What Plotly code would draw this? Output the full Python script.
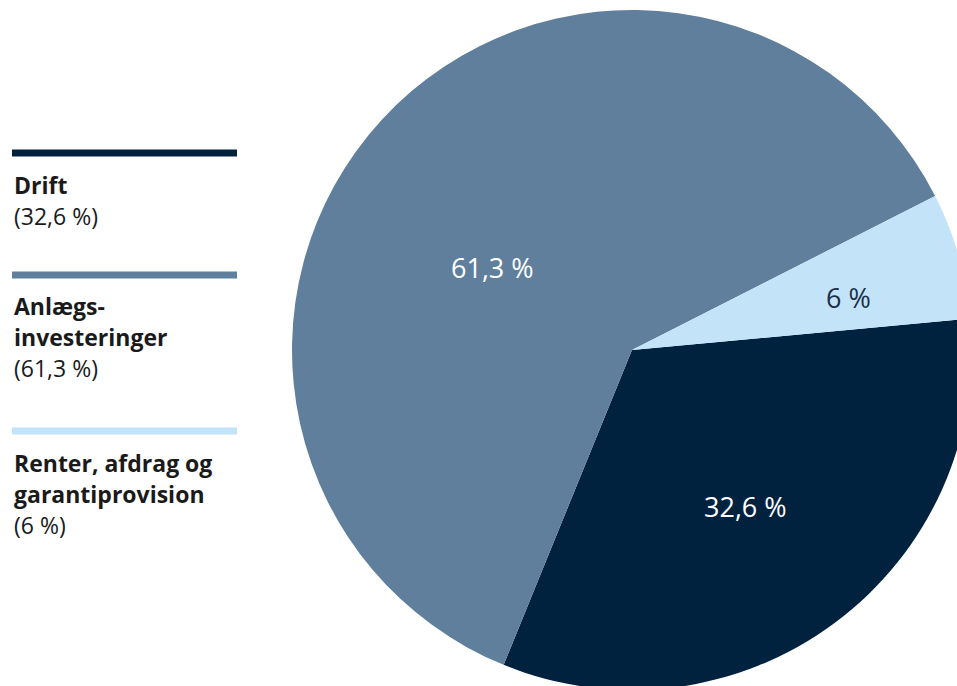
import plotly.graph_objects as go

# Data
labels = ["Drift", "Anlægsinvesteringer", "Renter, afdrag og garantiprovision"]
legend_lines = [["Drift"], ["Anlægs-", "investeringer"], ["Renter, afdrag og", "garantiprovision"]]
values = [32.6, 61.3, 6.0]
value_text = ["32,6 %", "61,3 %", "6 %"]
colors = ["#00223F", "#5F7F9C", "#C3E4F8"]
label_colors = ["#FFFFFF", "#FFFFFF", "#1B3048"]

# Figure is a bit larger than the window: the pie runs off the right/bottom edge
W, H = 973, 692
FONT = "Open Sans"

fig = go.Figure()
fig.add_trace(go.Pie(
    labels=labels,
    values=values,
    sort=False,
    direction="clockwise",
    rotation=84.7,
    marker=dict(colors=colors, line=dict(width=0)),
    textinfo="none",
    hoverinfo="label+percent",
    showlegend=False,
    domain=dict(x=[292 / W, 972 / W], y=[(H - 690) / H, (H - 10) / H]),
))

def py2paper(py):
    return 1 - py / H

# Labels on slices (pixel positions)
slice_label_pos = [(745, 507), (492, 267), (848, 297)]
annotations = []
for (px, py), txt, c in zip(slice_label_pos, value_text, label_colors):
    annotations.append(dict(
        x=px / W, y=py2paper(py), xref="paper", yref="paper",
        text=txt, showarrow=False, xanchor="center", yanchor="middle",
        font=dict(family=FONT, size=27, color=c),
    ))

# Custom legend
bar_y = [153, 275, 431]
text_start_y = [185, 306, 463]
line_h = 31
shapes = []
for i in range(3):
    shapes.append(dict(
        type="line", xref="paper", yref="paper",
        x0=12 / W, x1=237 / W, y0=py2paper(bar_y[i]), y1=py2paper(bar_y[i]),
        line=dict(color=colors[i], width=7),
    ))
    y = text_start_y[i]
    for ln in legend_lines[i]:
        annotations.append(dict(
            x=12 / W, y=py2paper(y), xref="paper", yref="paper",
            text="<b>" + ln + "</b>", showarrow=False, xanchor="left", yanchor="middle",
            font=dict(family=FONT, size=23, color="#1A1A1A"),
        ))
        y += line_h
    annotations.append(dict(
        x=12 / W, y=py2paper(y), xref="paper", yref="paper",
        text="(" + value_text[i] + ")", showarrow=False, xanchor="left", yanchor="middle",
        font=dict(family=FONT, size=23, color="#1A1A1A"),
    ))

fig.update_layout(
    width=W, height=H,
    margin=dict(l=0, r=0, t=0, b=0),
    paper_bgcolor="white",
    plot_bgcolor="white",
    shapes=shapes,
    annotations=annotations,
)

fig.write_html(
    "out.html",
    config={"displayModeBar": False},
    post_script="document.body.style.margin='0';document.body.style.overflow='hidden';",
)
